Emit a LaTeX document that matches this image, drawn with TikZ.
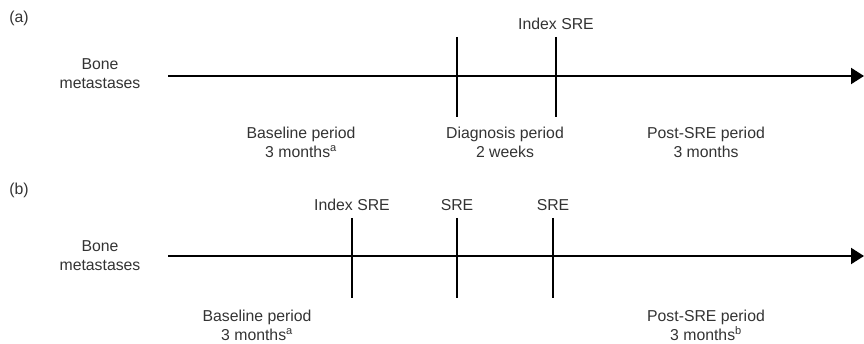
\documentclass[tikz,border=0pt]{standalone}
\usepackage{fontspec}
\setmainfont{Liberation Sans}
\usetikzlibrary{arrows.meta,positioning}

\begin{document}
\begin{tikzpicture}[x=1pt, y=-1pt,
  axis/.style = {line width=2pt, -{Triangle[length=13pt,width=16pt]}},
  tickline/.style = {line width=1.6pt},
  lbl/.style = {align=center, inner sep=0pt, text=black!80, font=\fontsize{15.8}{19}\selectfont}]
\useasboundingbox (0,0) rectangle (864,344);
% panel (a)
\node[lbl] (pa) at (19,18) {(a)};
\node[lbl] (boneA) at (100,74) {Bone\\metastases};
\coordinate (startA) at (168,76);
\coordinate (endA) at (864,76);
\draw[axis] (startA) -- (endA);
\coordinate (diagTop) at (457,37);
\coordinate (diagBot) at (457,117);
\coordinate (idxTopA) at (556,37);
\coordinate (idxBotA) at (556,117);
\draw[tickline] (diagTop) -- (diagBot);
\draw[tickline] (idxTopA) -- (idxBotA);
\node[lbl, above=7pt] (idxA) at (idxTopA) {Index SRE};
\node[lbl] (baseA) at (301,142) {Baseline period\\3 months\textsuperscript{a}};
\node[lbl] (diagA) at (505,142) {Diagnosis period\\2 weeks};
\node[lbl] (postA) at (706,142) {Post-SRE period\\3 months};
% panel (b)
\node[lbl] (pb) at (19,190) {(b)};
\node[lbl] (boneB) at (100,256) {Bone\\metastases};
\coordinate (startB) at (168,256);
\coordinate (endB) at (864,256);
\draw[axis] (startB) -- (endB);
\coordinate (idxTopB) at (352,218);
\coordinate (idxBotB) at (352,298);
\coordinate (sreOneTop) at (457,218);
\coordinate (sreOneBot) at (457,298);
\coordinate (sreTwoTop) at (553,218);
\coordinate (sreTwoBot) at (553,298);
\draw[tickline] (idxTopB) -- (idxBotB);
\draw[tickline] (sreOneTop) -- (sreOneBot);
\draw[tickline] (sreTwoTop) -- (sreTwoBot);
\node[lbl, above=7pt] (idxB) at (idxTopB) {Index SRE};
\node[lbl, above=7pt] (sreOne) at (sreOneTop) {SRE};
\node[lbl, above=7pt] (sreTwo) at (sreTwoTop) {SRE};
\node[lbl] (baseB) at (257,325) {Baseline period\\3 months\textsuperscript{a}};
\node[lbl] (postB) at (706,325) {Post-SRE period\\3 months\textsuperscript{b}};
\end{tikzpicture}
\end{document}
